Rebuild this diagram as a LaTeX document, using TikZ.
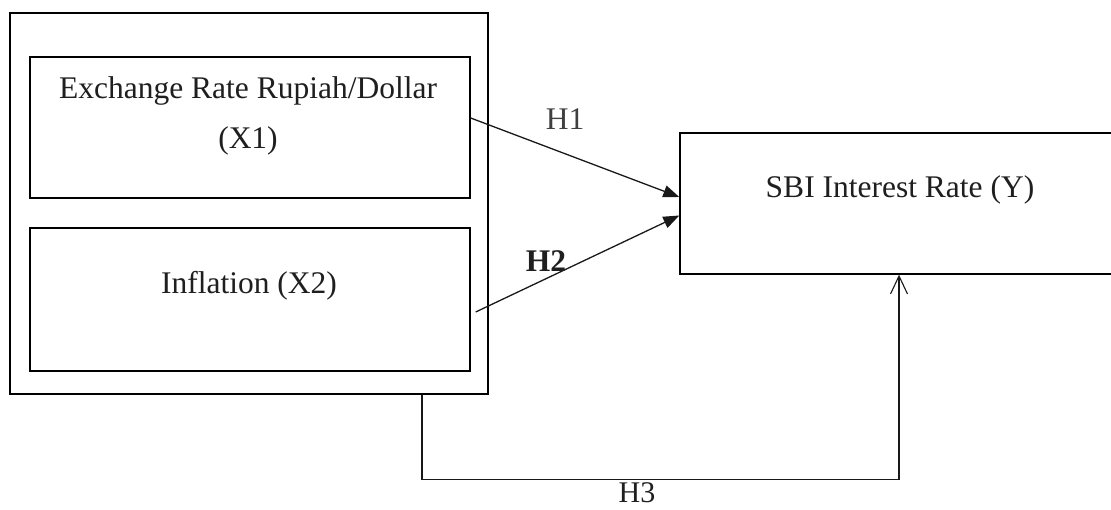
\documentclass[tikz,border=0pt]{standalone}
\usepackage{fontspec}
\setmainfont{Liberation Serif}
\usetikzlibrary{arrows.meta}
\begin{document}
\begin{tikzpicture}[x=1pt,y=-1pt,
  box/.style={draw=black,line width=1.4pt,rectangle,inner sep=0pt},
  txt/.style={font=\fontsize{31.5}{50}\selectfont,text=black!88,inner sep=0pt,anchor=base,align=center},
  conn/.style={line width=1.3pt,draw=black!90},
  tri/.style={-{Triangle[length=16pt,width=12pt]}},
  barb/.style={-{Straight Barb[length=18pt,width=17pt,line width=1.1pt]}}]
\useasboundingbox (0,0) rectangle (1111,509);
\clip (0,0) rectangle (1111,509);
\fill[white] (0,0) rectangle (1111,509);
\node[box,minimum width=478pt,minimum height=381pt] (outer) at (249,203.5) {};
\node[box,minimum width=440pt,minimum height=141pt] (box1) at (250,127.5) {};
\node[box,minimum width=440pt,minimum height=143pt] (box2) at (250,299.5) {};
\node[box,minimum width=438pt,minimum height=141pt] (Y) at (899,203.5) {};
\node[txt] (t1) at (248,148) {Exchange Rate Rupiah/Dollar\\(X1)};
\node[txt] (t2) at (249,293) {Inflation (X2)};
\node[txt] (tY) at (900,197) {SBI Interest Rate (Y)};
\draw[conn,tri] ([yshift=9.5pt]box1.east) -- ([yshift=6.5pt]Y.west);
\node[txt,text=black!75] (l1) at (565,129) {H1};
\draw[conn,tri] ([xshift=5pt,yshift=-12.5pt]box2.east) -- ([yshift=-12pt]Y.west);
\node[txt,font=\fontsize{31.5}{36}\selectfont\bfseries] (l2) at (546,271) {H2};
\draw[conn,barb] ([xshift=173pt]outer.south) -- ++(0,85) -| (Y.south);
\node[txt,font=\fontsize{30}{36}\selectfont] (l3) at (637,502) {H3};
\end{tikzpicture}
\end{document}
